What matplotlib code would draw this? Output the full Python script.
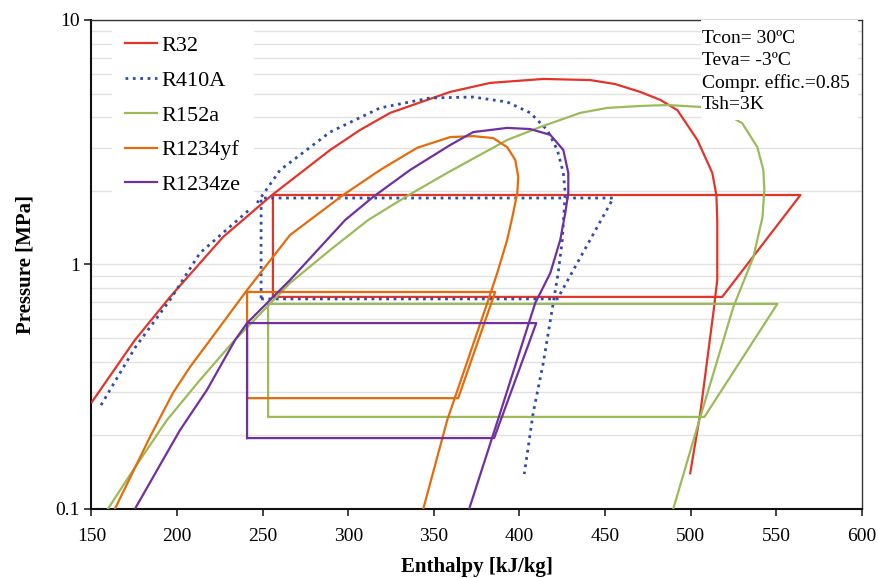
import numpy as np
import matplotlib.pyplot as plt
from matplotlib.patches import Rectangle
from matplotlib.ticker import FixedLocator, NullFormatter

plt.rcParams['font.family'] = ['Liberation Serif', 'DejaVu Serif']

names = ['R32', 'R410A', 'R152a', 'R1234yf', 'R1234ze']
colors = ['#E3342A', '#2F4DA8', '#9BBB59', '#E46C0A', '#7030A0']

# saturation domes, enthalpy [kJ/kg] and pressure [MPa]
h_R32 = [150.3, 175.4, 195.9, 226.9, 255.5, 289.4, 306.9, 324.5, 359.5, 382.9, 413.9, 441.3,
         455.9, 470.5, 482.3, 492.2, 503.9, 512.6, 515.0, 515.5, 515.5, 513.2, 505.6, 499.7]
p_R32 = [0.274, 0.491, 0.736, 1.296, 1.924, 2.94, 3.55, 4.17, 5.08, 5.53, 5.74, 5.68,
         5.47, 5.08, 4.71, 4.28, 3.23, 2.37, 1.92, 1.52, 0.864, 0.633, 0.247, 0.140]

h_R410A = [155.6, 175.4, 195.9, 213.4, 246.7, 260.2, 289.4, 304.0, 318.6, 347.8, 373.0, 392.8,
           406.3, 416.2, 422.1, 425.6, 426.7, 425.0, 422.6, 419.7, 413.9, 408.0, 402.8]
p_R410A = [0.266, 0.456, 0.716, 1.114, 1.784, 2.435, 3.48, 3.90, 4.37, 4.80, 4.84, 4.62,
           4.17, 3.55, 2.94, 2.37, 1.96, 1.26, 0.923, 0.696, 0.396, 0.247, 0.139]

h_R152a = [159.6, 174.3, 194.1, 213.4, 232.7, 266.0, 289.4, 311.6, 334.4, 357.8, 392.8, 412.1,
           435.5, 451.3, 470.5, 486.3, 505.6, 518.4, 530.0, 538.9, 542.4, 543.0, 541.9,
           536.6, 524.9, 505.6, 489.8]
p_R152a = [0.100, 0.144, 0.231, 0.337, 0.482, 0.840, 1.146, 1.52, 1.906, 2.37, 3.23, 3.65,
           4.17, 4.37, 4.45, 4.49, 4.41, 4.20, 3.79, 3.02, 2.44, 2.02, 1.56,
           1.073, 0.670, 0.238, 0.100]

h_R1234yf = [163.7, 184.2, 197.6, 207.6, 219.3, 240.9, 266.0, 297.0, 318.6, 340.2, 359.5,
             373.0, 384.6, 392.8, 397.5, 399.3, 398.7, 395.8, 392.8, 387.0, 381.2, 357.8, 343.8]
p_R1234yf = [0.100, 0.197, 0.298, 0.381, 0.491, 0.786, 1.32, 1.924, 2.435, 3.00, 3.32,
             3.35, 3.29, 3.02, 2.68, 2.28, 1.96, 1.56, 1.26, 0.923, 0.696, 0.231, 0.100]

h_R1234ze = [175.4, 188.3, 201.7, 217.5, 233.9, 240.9, 266.0, 298.2, 314.5, 336.1, 359.5,
             373.0, 392.8, 406.3, 418.0, 425.6, 428.5, 428.5, 426.7, 423.8, 418.0, 409.2,
             388.7, 370.6]
p_R1234ze = [0.100, 0.144, 0.210, 0.307, 0.491, 0.576, 0.864, 1.52, 1.89, 2.435, 3.08,
             3.48, 3.62, 3.58, 3.39, 2.94, 2.37, 1.96, 1.62, 1.26, 0.923, 0.696,
             0.247, 0.100]

dome_h = [h_R32, h_R410A, h_R152a, h_R1234yf, h_R1234ze]
dome_p = [p_R32, p_R410A, p_R152a, p_R1234yf, p_R1234ze]

# cycle states: enthalpy after expansion, at evaporator exit, at compressor exit
h_exp = [256.0, 249.1, 253.2, 240.9, 240.9]
h_evo = [518.4, 422.1, 508.0, 364.2, 385.2]
h_cmp = [564.1, 454.8, 550.6, 385.8, 409.8]
p_eva = [0.737, 0.723, 0.238, 0.284, 0.195]
p_con = [1.924, 1.870, 0.690, 0.772, 0.576]

fig = plt.figure(figsize=(8.79, 5.78), dpi=100)
ax = fig.add_axes([0.104, 0.1194, 0.8766, 0.846])

for i in range(5):
    ls = ':' if names[i] == 'R410A' else '-'
    lw = 2.0 if names[i] == 'R410A' else 1.6
    ax.plot(dome_h[i], dome_p[i], color=colors[i], ls=ls, lw=lw, label=names[i], zorder=3)
    ch = [h_exp[i], h_evo[i], h_cmp[i], h_exp[i], h_exp[i]]
    cp = [p_eva[i], p_eva[i], p_con[i], p_con[i], p_eva[i]]
    ax.plot(ch, cp, color=colors[i], ls=ls, lw=lw, zorder=3)

ax.set_yscale('log')
ax.set_xlim(150, 600)
ax.set_ylim(0.1, 10)
ax.set_xticks(np.arange(150, 601, 50))
ax.yaxis.set_major_locator(FixedLocator([0.1, 1, 10]))
ax.set_yticklabels(['0.1', '1', '10'])
ax.yaxis.set_minor_locator(FixedLocator([k * d for d in (0.1, 1) for k in range(2, 10)]))
ax.yaxis.set_minor_formatter(NullFormatter())
ax.tick_params(axis='y', which='minor', length=0)
ax.tick_params(axis='both', which='major', direction='out', length=5, width=1.2,
               labelsize=14, color='#222222')
ax.tick_params(axis='x', which='major', pad=9)
ax.grid(axis='y', which='both', color='#E2E2E2', lw=1.0, zorder=0)
ax.set_axisbelow(True)

for s in ['left', 'bottom']:
    ax.spines[s].set_linewidth(1.5)
    ax.spines[s].set_color('#111111')
for s in ['top', 'right']:
    ax.spines[s].set_linewidth(1.0)
    ax.spines[s].set_color('#333333')

ax.set_xlabel('Enthalpy [kJ/kg]', fontsize=15, fontweight='bold', labelpad=8)
ax.set_ylabel('Pressure [MPa]', fontsize=15, fontweight='bold', labelpad=14)

leg = ax.legend(loc='upper left', bbox_to_anchor=(0.0234, 1.0), fontsize=16,
                frameon=True, fancybox=False, framealpha=1, edgecolor='none',
                handlelength=1.45, handletextpad=0.2, labelspacing=0.64,
                borderpad=0.6, borderaxespad=0.1)
leg.set_zorder(5)

ax.add_patch(Rectangle((0.791, 0.7955), 0.204, 0.2035, transform=ax.transAxes,
                       facecolor='white', edgecolor='none', zorder=5))
notes = ['Tcon= 30ºC', 'Teva= -3ºC', 'Compr. effic.=0.85', 'Tsh=3K']
for k, t in enumerate(notes):
    ax.text(0.792, 0.963 - k * 0.0455, t, transform=ax.transAxes, fontsize=14,
            va='center', ha='left', zorder=6)

fig.savefig('out.png', dpi=100)
